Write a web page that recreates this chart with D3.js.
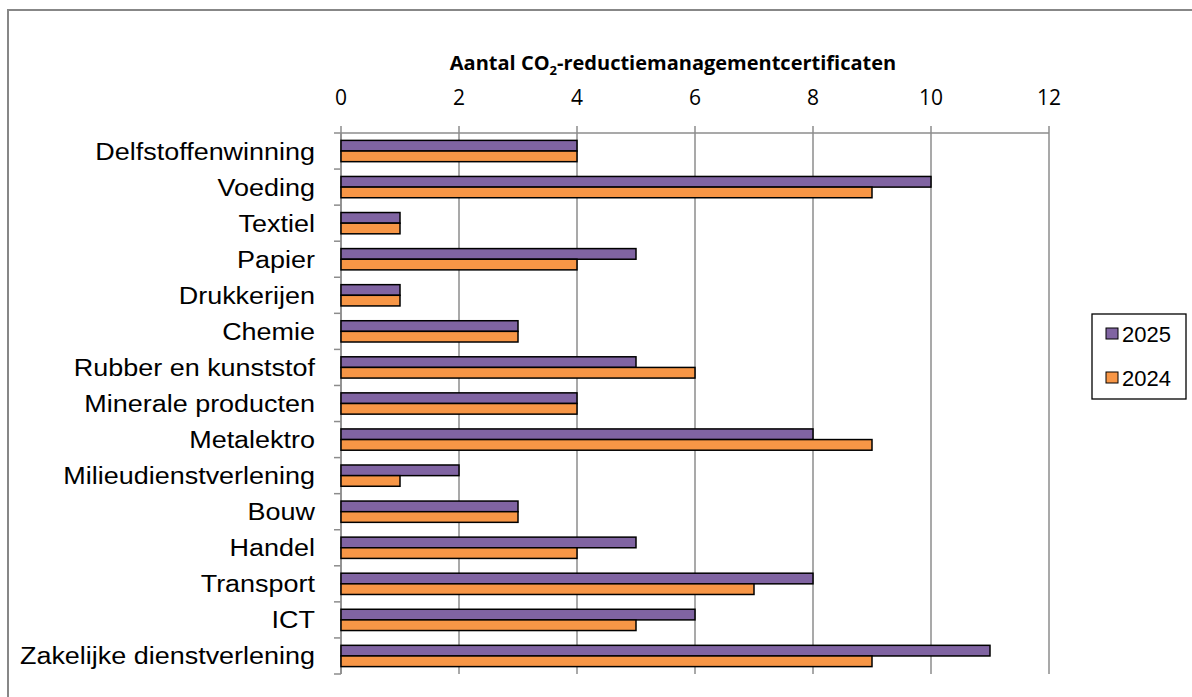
<!DOCTYPE html>
<html><head><meta charset="utf-8">
<script src="https://cdn.jsdelivr.net/npm/d3@7"></script>
<style>body{margin:0;background:#fff}svg{display:block}</style>
</head><body>
<svg id="c" width="1192" height="697"></svg>
<script>
const categories = ["Delfstoffenwinning","Voeding","Textiel","Papier","Drukkerijen","Chemie","Rubber en kunststof","Minerale producten","Metalektro","Milieudienstverlening","Bouw","Handel","Transport","ICT","Zakelijke dienstverlening"];
const series2025 = [4,10,1,5,1,3,5,4,8,2,3,5,8,6,11];
const series2024 = [4,9,1,4,1,3,6,4,9,1,3,4,7,5,9];
const seriesNames = ["2025","2024"];
const seriesColors = ["#8064A2","#F79646"];
const xTicks = [0,2,4,6,8,10,12];

const svg = d3.select("#c");
svg.append("rect").attr("x",8).attr("y",10).attr("width",1300).attr("height",800)
  .attr("fill","none").attr("stroke","#878787").attr("stroke-width",2);

const pL = 341, pR = 1049, pT = 133, pB = 674;
const x = d3.scaleLinear().domain([0,12]).range([pL,pR]);
const y = d3.scaleBand().domain(categories).range([pT,pB]).paddingInner(0.41).paddingOuter(0.205);
const ySub = d3.scaleBand().domain(seriesNames).range([0,y.bandwidth()]);
const yOuter = d3.scaleBand().domain(categories).range([pT,pB]);

svg.append("g").selectAll("line").data(xTicks).join("line")
  .attr("x1",d=>x(d)).attr("x2",d=>x(d)).attr("y1",pT-7).attr("y2",pB)
  .attr("stroke","#8c8c8c").attr("stroke-width",1.5);
svg.append("line").attr("x1",pL).attr("x2",pR).attr("y1",pT).attr("y2",pT)
  .attr("stroke","#8c8c8c").attr("stroke-width",1.5);
svg.append("line").attr("x1",pL).attr("x2",pL).attr("y1",pT).attr("y2",pB)
  .attr("stroke","#8c8c8c").attr("stroke-width",1.5);
const yTickPos = categories.map(c=>yOuter(c)).concat([pB]);
svg.append("g").selectAll("line").data(yTickPos).join("line")
  .attr("x1",pL-7).attr("x2",pL).attr("y1",d=>d).attr("y2",d=>d)
  .attr("stroke","#8c8c8c").attr("stroke-width",1.5);

svg.append("g").selectAll("text").data(xTicks).join("text")
  .attr("x",d=>x(d)).attr("y",105).attr("text-anchor","middle")
  .attr("font-family","Open Sans, sans-serif").attr("font-size",21).attr("fill","#000")
  .text(d=>d);

const t = svg.append("text").attr("x",673).attr("y",70).attr("text-anchor","middle")
  .attr("font-family","Open Sans, sans-serif").attr("font-weight","bold").attr("font-size",20).attr("fill","#000");
t.append("tspan").text("Aantal CO");
t.append("tspan").attr("font-size",13).attr("dy",5).text("2");
t.append("tspan").attr("dy",-5).text("-reductiemanagementcertificaten");

svg.append("g").selectAll("text").data(categories).join("text")
  .attr("transform",d=>`translate(315,${yOuter(d)+yOuter.bandwidth()/2+8.5}) scale(1.1,1)`)
  .attr("text-anchor","end")
  .attr("font-family","Liberation Sans, Arial, sans-serif").attr("font-size",24.5).attr("fill","#000")
  .text(d=>d);

const data = [series2025, series2024];
data.forEach((vals,si)=>{
  svg.append("g").selectAll("rect").data(categories).join("rect")
    .attr("x",x(0)).attr("y",(d)=>y(d)+ySub(seriesNames[si]))
    .attr("width",(d,i)=>x(vals[i])-x(0)).attr("height",ySub.bandwidth())
    .attr("fill",seriesColors[si]).attr("stroke","#000").attr("stroke-width",1.5);
});

svg.append("rect").attr("x",1092).attr("y",314).attr("width",94).attr("height",85)
  .attr("fill","#fff").attr("stroke","#000").attr("stroke-width",1.3);
seriesNames.forEach((s,i)=>{
  const sy = 328 + i*44;
  svg.append("rect").attr("x",1106).attr("y",sy).attr("width",12).attr("height",11)
    .attr("fill",seriesColors[i]).attr("stroke","#000").attr("stroke-width",1);
  svg.append("text").attr("x",1122).attr("y",sy+14).attr("font-family","Liberation Sans, Arial, sans-serif")
    .attr("font-size",22).attr("fill","#000").text(s);
});
</script>
</body></html>
